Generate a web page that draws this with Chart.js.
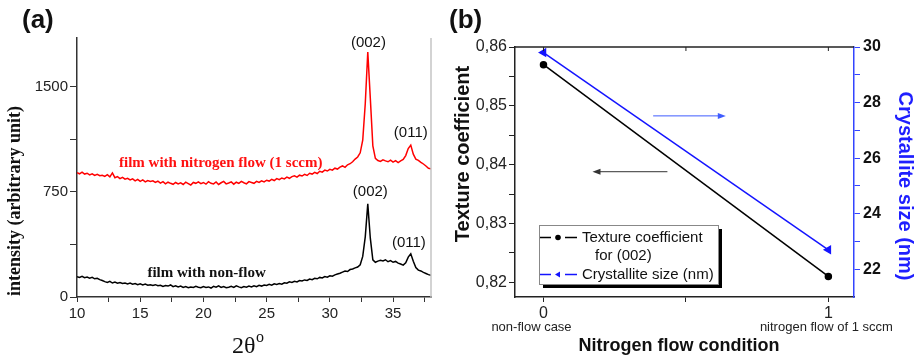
<!DOCTYPE html>
<html>
<head>
<meta charset="utf-8">
<script src="https://cdn.jsdelivr.net/npm/chart.js@4.4.1/dist/chart.umd.min.js"></script>
<style>
  html, body { margin: 0; padding: 0; background: #fff; }
  #wrap { position: relative; width: 921px; height: 360px; overflow: hidden; }
  #chartA { position: absolute; left: 0; top: 0; }
  #chartB { position: absolute; left: 445px; top: 0; }
</style>
</head>
<body>
<div id="wrap">
  <canvas id="chartA" width="445" height="360"></canvas>
  <canvas id="chartB" width="476" height="360"></canvas>
</div>
<script>
// ---- panel (a): XRD patterns ----
var twoTheta = [
  10.0, 10.2, 10.4, 10.6, 10.8, 11.0, 11.2, 11.4, 11.6, 11.8,
  12.0, 12.2, 12.4, 12.6, 12.8, 13.0, 13.2, 13.4, 13.6, 13.8,
  14.0, 14.2, 14.4, 14.6, 14.8, 15.0, 15.2, 15.4, 15.6, 15.8,
  16.0, 16.2, 16.4, 16.6, 16.8, 17.0, 17.2, 17.4, 17.6, 17.8,
  18.0, 18.2, 18.4, 18.6, 18.8, 19.0, 19.2, 19.4, 19.6, 19.8,
  20.0, 20.2, 20.4, 20.6, 20.8, 21.0, 21.2, 21.4, 21.6, 21.8,
  22.0, 22.2, 22.4, 22.6, 22.8, 23.0, 23.2, 23.4, 23.6, 23.8,
  24.0, 24.2, 24.4, 24.6, 24.8, 25.0, 25.2, 25.4, 25.6, 25.8,
  26.0, 26.2, 26.4, 26.6, 26.8, 27.0, 27.2, 27.4, 27.6, 27.8,
  28.0, 28.2, 28.4, 28.6, 28.8, 29.0, 29.2, 29.4, 29.6, 29.8,
  30.0, 30.2, 30.4, 30.6, 30.8, 31.0, 31.2, 31.4, 31.6, 31.8,
  32.0, 32.2, 32.4, 32.6, 32.8, 33.0, 33.2, 33.4, 33.6, 33.8,
  34.0, 34.2, 34.4, 34.6, 34.8, 35.0, 35.2, 35.4, 35.6, 35.8,
  36.0, 36.2, 36.4, 36.6, 36.8, 37.0, 37.2, 37.4, 37.6, 37.8,
  38.0
];
var nitrogenFlowIntensity = [
  888, 880, 892, 878, 884, 872, 880, 868, 876, 866,
  870, 862, 874, 858, 886, 852, 860, 846, 855, 842,
  848, 836, 844, 830, 840, 826, 836, 822, 832, 826,
  830, 818, 828, 814, 824, 808, 820, 812, 805, 818,
  808, 816, 804, 820, 810, 800, 818, 812, 822, 810,
  818, 806, 824, 812, 808, 822, 804, 816, 826, 808,
  814, 822, 806, 820, 812, 826, 816, 808, 824, 818,
  812, 826, 818, 830, 822, 834, 828, 840, 832, 846,
  838, 850, 844, 856, 848, 860, 866, 856, 870, 864,
  876, 868, 884, 878, 890, 882, 898, 892, 906, 900,
  912, 906, 920, 914, 928, 936, 926, 944, 952, 966,
  985, 1000, 1030, 1120, 1380, 1750, 1420, 1080, 990, 975,
  968, 980, 972, 966, 978, 964, 974, 960, 972, 982,
  1010, 1060, 1085, 1020, 985, 976, 962, 950, 936, 920,
  915
];
var nonFlowIntensity = [
  145, 140, 148, 138, 142, 135, 140, 130, 134, 124,
  118, 110, 104, 112, 100, 106, 98, 104, 96, 100,
  94, 100, 92, 96, 88, 94, 86, 92, 84, 88,
  82, 88, 80, 84, 76, 82, 78, 86, 74, 80,
  72, 78, 68, 74, 66, 72, 68, 76, 70, 66,
  74, 68, 72, 64, 76, 70, 80, 68, 74, 66,
  70, 76, 68, 80, 72, 66, 74, 70, 78, 72,
  80, 74, 84, 78, 86, 82, 90, 84, 94, 90,
  96, 92, 102, 98, 108, 104, 112, 108, 118, 114,
  122, 118, 128, 124, 134, 130, 140, 136, 146, 142,
  152, 148, 158, 164, 170, 178, 186, 182, 196, 200,
  208, 214, 230, 290, 430, 665, 420, 265, 248, 256,
  262, 258, 266, 252, 260, 248, 254, 242, 236, 228,
  245, 285, 308, 255, 210, 192, 186, 176, 168, 160,
  155
];
var thetaTicks = [10, 12.5, 15, 17.5, 20, 22.5, 25, 27.5, 30, 32.5, 35, 37.5];
var thetaLabels = [10, 15, 20, 25, 30, 35];
var intensityTicks = [0, 375, 750, 1125, 1500];
var intensityLabels = [0, 750, 1500];
var peakNames = ['(002)', '(011)', '(002)', '(011)'];
var peakNameX = [33.05, 36.4, 33.2, 36.25];
var peakNameY = [1812, 1171, 750, 389];
var curveNames = ['film with nitrogen flow (1 sccm)', 'film with non-flow'];
var curveNameX = [21.37, 20.25];
var curveNameY = [957, 167];

// ---- panel (b): texture coefficient and crystallite size ----
var flowCondition = [0, 1];
var flowConditionNames = ['non-flow case', 'nitrogen flow of 1 sccm'];
var textureCoefficient = [0.857, 0.821];
var crystalliteSize = [29.8, 22.7];
var flowTicks = [0, 0.5, 1];
var textureTicks = [0.82, 0.825, 0.83, 0.835, 0.84, 0.845, 0.85, 0.855, 0.86];
var textureLabels = ['0,82', '', '0,83', '', '0,84', '', '0,85', '', '0,86'];
var sizeTicks = [22, 23, 24, 25, 26, 27, 28, 29, 30];
var sizeLabels = ['22', '', '24', '', '26', '', '28', '', '30'];

Chart.defaults.font.family = 'Liberation Sans';
Chart.defaults.color = '#222';

function pairs(xs, ys) {
  return xs.map(function (x, i) { return { x: x, y: ys[i] }; });
}

function fixedTicks(values) {
  return function (axis) {
    axis.ticks = values.map(function (v) { return { value: v }; });
  };
}

function arrow(ctx, x1, y1, x2, y2, color) {
  var dir = x2 > x1 ? 1 : -1;
  ctx.save();
  ctx.strokeStyle = color;
  ctx.fillStyle = color;
  ctx.lineWidth = 1;
  ctx.beginPath();
  ctx.moveTo(x1, y1);
  ctx.lineTo(x2 - dir * 6, y2);
  ctx.stroke();
  ctx.beginPath();
  ctx.moveTo(x2, y2);
  ctx.lineTo(x2 - dir * 8, y2 - 3);
  ctx.lineTo(x2 - dir * 8, y2 + 3);
  ctx.closePath();
  ctx.fill();
  ctx.restore();
}

var panelAExtras = {
  id: 'panelAExtras',
  afterDraw: function (chart) {
    var ctx = chart.ctx, ca = chart.chartArea;
    var xs = chart.scales.x, ys = chart.scales.y;
    ctx.save();
    // light right frame
    ctx.strokeStyle = '#c4c4c4';
    ctx.lineWidth = 1.5;
    ctx.beginPath();
    ctx.moveTo(ca.right, ca.top);
    ctx.lineTo(ca.right, ca.bottom);
    ctx.stroke();

    ctx.textAlign = 'center';
    ctx.textBaseline = 'middle';
    ctx.fillStyle = '#111';
    ctx.font = '15px "Liberation Sans"';
    peakNames.forEach(function (t, i) {
      ctx.fillText(t, xs.getPixelForValue(peakNameX[i]), ys.getPixelForValue(peakNameY[i]));
    });

    ctx.font = 'bold 15px "Liberation Serif"';
    ctx.fillStyle = '#ff1010';
    ctx.fillText(curveNames[0], xs.getPixelForValue(curveNameX[0]), ys.getPixelForValue(curveNameY[0]));
    ctx.fillStyle = '#111';
    ctx.fillText(curveNames[1], xs.getPixelForValue(curveNameX[1]), ys.getPixelForValue(curveNameY[1]));

    // axis titles
    ctx.fillStyle = '#111';
    ctx.font = 'bold 18px "Liberation Serif"';
    ctx.save();
    ctx.translate(15, 201);
    ctx.rotate(-Math.PI / 2);
    ctx.fillText('intensity (arbitrary unit)', 0, 0);
    ctx.restore();

    ctx.textAlign = 'left';
    ctx.textBaseline = 'alphabetic';
    ctx.font = '24px "Liberation Serif"';
    ctx.fillText('2θ', 232, 353);
    ctx.font = '16px "Liberation Serif"';
    ctx.fillText('o', 256, 342);

    ctx.font = 'bold 26px "Liberation Sans"';
    ctx.textBaseline = 'middle';
    ctx.fillText('(a)', 22, 21);
    ctx.restore();
  }
};

var panelBExtras = {
  id: 'panelBExtras',
  afterDraw: function (chart) {
    var ctx = chart.ctx, ca = chart.chartArea;
    var xs = chart.scales.x, ys = chart.scales.y, ys2 = chart.scales.y2;
    ctx.save();
    // top frame and inward ticks
    ctx.strokeStyle = '#222';
    ctx.lineWidth = 1.5;
    ctx.beginPath();
    ctx.moveTo(ca.left, ca.top);
    ctx.lineTo(ca.right, ca.top);
    ctx.stroke();
    ctx.lineWidth = 1;
    flowTicks.forEach(function (v) {
      var px = xs.getPixelForValue(v);
      ctx.beginPath();
      ctx.moveTo(px, ca.top);
      ctx.lineTo(px, ca.top + 4);
      ctx.stroke();
    });

    // direction arrows
    arrow(ctx, xs.getPixelForValue(0.385), ys2.getPixelForValue(27.52),
      xs.getPixelForValue(0.64), ys2.getPixelForValue(27.52), '#3f5cff');
    arrow(ctx, xs.getPixelForValue(0.435), ys.getPixelForValue(0.8388),
      xs.getPixelForValue(0.172), ys.getPixelForValue(0.8388), '#333');

    // legend box
    var lx = ca.left + 24, ly = ca.top + 178, lw = 179, lh = 59;
    ctx.fillStyle = '#000';
    ctx.fillRect(lx + 4, ly + 4, lw, lh);
    ctx.fillStyle = '#fff';
    ctx.fillRect(lx, ly, lw, lh);
    ctx.strokeStyle = '#888';
    ctx.lineWidth = 1;
    ctx.strokeRect(lx + 0.5, ly + 0.5, lw, lh);

    var r1 = ly + 12.5, r2 = ly + 31, r3 = ly + 49.5;
    ctx.lineWidth = 1.5;
    ctx.strokeStyle = '#000';
    ctx.beginPath();
    ctx.moveTo(lx + 1, r1); ctx.lineTo(lx + 12, r1);
    ctx.moveTo(lx + 26, r1); ctx.lineTo(lx + 38, r1);
    ctx.stroke();
    ctx.fillStyle = '#000';
    ctx.beginPath();
    ctx.arc(lx + 19, r1, 2.8, 0, Math.PI * 2);
    ctx.fill();

    ctx.strokeStyle = '#1414ff';
    ctx.fillStyle = '#1414ff';
    ctx.beginPath();
    ctx.moveTo(lx + 1, r3); ctx.lineTo(lx + 12, r3);
    ctx.moveTo(lx + 26, r3); ctx.lineTo(lx + 38, r3);
    ctx.stroke();
    ctx.beginPath();
    ctx.moveTo(lx + 16, r3);
    ctx.lineTo(lx + 21, r3 - 3);
    ctx.lineTo(lx + 21, r3 + 3);
    ctx.closePath();
    ctx.fill();

    ctx.fillStyle = '#111';
    ctx.font = '15px "Liberation Sans"';
    ctx.textAlign = 'left';
    ctx.textBaseline = 'middle';
    ctx.fillText('Texture coefficient', lx + 43, r1);
    ctx.fillText('for (002)', lx + 56, r2);
    ctx.fillText('Crystallite size (nm)', lx + 43, r3);

    // condition names under the ticks
    ctx.font = '13px "Liberation Sans"';
    ctx.textAlign = 'center';
    ctx.fillStyle = '#222';
    ctx.fillText(flowConditionNames[0], xs.getPixelForValue(flowCondition[0]) - 12, 327);
    ctx.fillText(flowConditionNames[1], xs.getPixelForValue(flowCondition[1]) - 2, 327);

    // axis titles
    ctx.fillStyle = '#111';
    ctx.font = 'bold 18px "Liberation Sans"';
    ctx.fillText('Nitrogen flow condition', 234, 346);

    ctx.save();
    ctx.font = 'bold 20px "Liberation Sans"';
    ctx.translate(18, 154);
    ctx.rotate(-Math.PI / 2);
    ctx.fillText('Texture coefficient', 0, 0);
    ctx.restore();

    ctx.save();
    ctx.fillStyle = '#1f1fff';
    ctx.font = 'bold 20px "Liberation Sans"';
    ctx.translate(460, 186);
    ctx.rotate(Math.PI / 2);
    ctx.fillText('Crystallite size (nm)', 0, 0);
    ctx.restore();

    ctx.fillStyle = '#111';
    ctx.textAlign = 'left';
    ctx.font = 'bold 26px "Liberation Sans"';
    ctx.fillText('(b)', 4, 21);
    ctx.restore();
  }
};

new Chart(document.getElementById('chartA'), {
  type: 'scatter',
  data: {
    datasets: [{
      label: 'film with nitrogen flow (1 sccm)',
      data: pairs(twoTheta, nitrogenFlowIntensity),
      showLine: true,
      borderColor: '#ff0000',
      borderWidth: 1.5,
      pointRadius: 0
    }, {
      label: 'film with non-flow',
      data: pairs(twoTheta, nonFlowIntensity),
      showLine: true,
      borderColor: '#000000',
      borderWidth: 1.5,
      pointRadius: 0
    }]
  },
  options: {
    responsive: false,
    animation: false,
    layout: { padding: { left: 0, right: 14, top: 38, bottom: 0 } },
    plugins: { legend: { display: false }, tooltip: { enabled: false } },
    scales: {
      x: {
        type: 'linear',
        min: 10, max: 38,
        afterBuildTicks: fixedTicks(thetaTicks),
        afterFit: function (axis) { axis.height = 63; },
        border: { color: '#333', width: 1.5 },
        grid: { drawOnChartArea: false, tickLength: 5, tickColor: '#333' },
        ticks: {
          autoSkip: false, maxRotation: 0, padding: 3,
          font: { size: 15 }, color: '#222',
          callback: function (v) { return thetaLabels.indexOf(v) >= 0 ? String(v) : ''; }
        }
      },
      y: {
        min: 0, max: 1850,
        afterBuildTicks: fixedTicks(intensityTicks),
        afterFit: function (axis) { axis.width = 77; },
        border: { color: '#333', width: 1.5 },
        grid: { drawOnChartArea: false, tickLength: 7, tickColor: '#333' },
        ticks: {
          autoSkip: false, padding: 2,
          font: { size: 15 }, color: '#222',
          callback: function (v) { return intensityLabels.indexOf(v) >= 0 ? String(v) : ''; }
        }
      }
    }
  },
  plugins: [panelAExtras]
});

new Chart(document.getElementById('chartB'), {
  type: 'scatter',
  data: {
    datasets: [{
      label: 'Texture coefficient for (002)',
      data: pairs(flowCondition, textureCoefficient),
      yAxisID: 'y',
      showLine: true,
      borderColor: '#000',
      backgroundColor: '#000',
      borderWidth: 1.5,
      pointRadius: 3,
      pointStyle: 'circle'
    }, {
      label: 'Crystallite size (nm)',
      data: pairs(flowCondition, crystalliteSize),
      yAxisID: 'y2',
      showLine: true,
      borderColor: '#1414ff',
      backgroundColor: '#1414ff',
      borderWidth: 1.5,
      pointRadius: 4,
      pointStyle: 'triangle',
      pointRotation: -90
    }]
  },
  options: {
    responsive: false,
    animation: false,
    layout: { padding: { left: 0, right: 0, top: 47, bottom: 0 } },
    plugins: { legend: { display: false }, tooltip: { enabled: false } },
    scales: {
      x: {
        type: 'linear',
        min: -0.1, max: 1.09,
        afterBuildTicks: fixedTicks(flowTicks),
        afterFit: function (axis) { axis.height = 63; },
        border: { color: '#222', width: 1.5 },
        grid: { drawOnChartArea: false, tickLength: 5, tickColor: '#222' },
        ticks: {
          autoSkip: false, maxRotation: 0, padding: 2,
          font: { size: 16 }, color: '#222',
          callback: function (v) { return flowCondition.indexOf(v) >= 0 ? String(v) : ''; }
        }
      },
      y: {
        position: 'left',
        min: 0.8175, max: 0.86,
        afterBuildTicks: fixedTicks(textureTicks),
        afterFit: function (axis) { axis.width = 70; },
        border: { color: '#222', width: 1.5 },
        grid: { drawOnChartArea: false, tickLength: 6, tickColor: '#222' },
        ticks: {
          autoSkip: false, padding: 2,
          font: { size: 16 }, color: '#222',
          callback: function (v, i) { return textureLabels[i]; }
        }
      },
      y2: {
        position: 'right',
        min: 21, max: 30,
        afterBuildTicks: fixedTicks(sizeTicks),
        afterFit: function (axis) { axis.width = 67; },
        border: { color: '#3344ff', width: 1.5 },
        grid: { drawOnChartArea: false, tickLength: 6, tickColor: '#3344ff' },
        ticks: {
          autoSkip: false, padding: 3,
          font: { size: 16, weight: 'bold' }, color: '#111',
          callback: function (v, i) { return sizeLabels[i]; }
        }
      }
    }
  },
  plugins: [panelBExtras]
});
</script>
</body>
</html>
